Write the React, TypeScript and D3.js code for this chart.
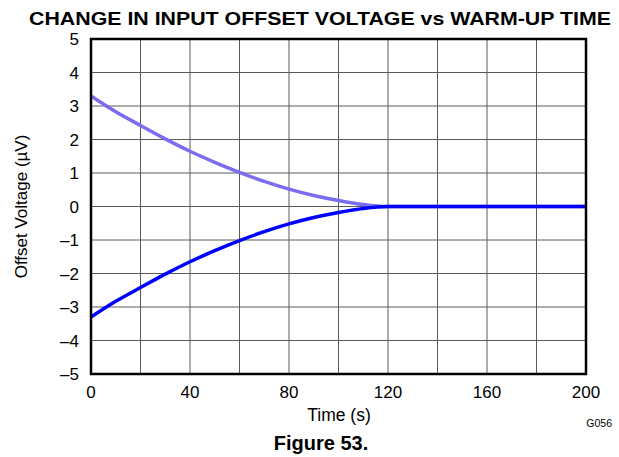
import React from "react";
import * as d3 from "d3";

const times = [0, 10, 20, 30, 40, 50, 60, 70, 80, 90, 100, 110, 120, 140, 160, 180, 200];
const upperValues = [3.3, 2.83, 2.42, 2.02, 1.65, 1.32, 1.02, 0.75, 0.52, 0.33, 0.18, 0.06, 0, 0, 0, 0, 0];
const lowerValues = [-3.3, -2.83, -2.42, -2.02, -1.65, -1.32, -1.02, -0.75, -0.52, -0.33, -0.18, -0.06, 0, 0, 0, 0, 0];
const xTicks = [0, 40, 80, 120, 160, 200];
const xGrid = [20, 40, 60, 80, 100, 120, 140, 160, 180];
const yTicks = [-5, -4, -3, -2, -1, 0, 1, 2, 3, 4, 5];

const W = 619, H = 457;
const L = 91, R = 586, T = 39, B = 374;

export default function App() {
  const x = d3.scaleLinear().domain([0, 200]).range([L, R]);
  const y = d3.scaleLinear().domain([-5, 5]).range([B, T]);
  const line = d3
    .line<[number, number]>()
    .x((d) => x(d[0]))
    .y((d) => y(d[1]))
    .curve(d3.curveMonotoneX);
  const up = times.map((t, i) => [t, upperValues[i]] as [number, number]);
  const lo = times.map((t, i) => [t, lowerValues[i]] as [number, number]);
  const fmt = (v: number) => (v < 0 ? "\u2013" + Math.abs(v) : String(v));
  const font = "Arial, 'Liberation Sans', sans-serif";
  return (
    <svg width={W} height={H} style={{ position: "absolute", left: 0, top: 0, background: "#fff" }} fontFamily={font}>
      <text x={320} y={25} textAnchor="middle" fontSize={18.5} fontWeight="bold" fill="#000" textLength={582} lengthAdjust="spacingAndGlyphs">
        CHANGE IN INPUT OFFSET VOLTAGE vs WARM-UP TIME
      </text>
      {xGrid.map((g) => (
        <line key={"vx" + g} x1={x(g)} x2={x(g)} y1={T} y2={B} stroke="#5a5a5a" strokeWidth={1} />
      ))}
      {yTicks.slice(1, -1).map((g) => (
        <line key={"hy" + g} x1={L} x2={R} y1={y(g)} y2={y(g)} stroke="#5a5a5a" strokeWidth={1} />
      ))}
      <path d={line(up) || ""} fill="none" stroke="#7b6cf0" strokeWidth={3.5} />
      <path d={line(lo) || ""} fill="none" stroke="#0000ff" strokeWidth={3.5} />
      <rect x={L} y={T} width={R - L} height={B - T} fill="none" stroke="#000" strokeWidth={2.5} />
      {yTicks.map((t) => (
        <text key={"yl" + t} x={L - 12} y={y(t) + 6} textAnchor="end" fontSize={17} fill="#000">
          {fmt(t)}
        </text>
      ))}
      {xTicks.map((t) => (
        <text key={"xl" + t} x={x(t)} y={B + 24} textAnchor="middle" fontSize={17} fill="#000">
          {fmt(t)}
        </text>
      ))}
      <text x={339} y={421} textAnchor="middle" fontSize={17.5} fill="#000">Time (s)</text>
      <text transform={`translate(27, ${(T + B) / 2}) rotate(-90)`} textAnchor="middle" fontSize={17} fill="#000">
        Offset Voltage (µV)
      </text>
      <text x={612} y={427} textAnchor="end" fontSize={10.5} fill="#000">G056</text>
      <text x={321} y={450} textAnchor="middle" fontSize={20} fontWeight="bold" fill="#000">Figure 53.</text>
    </svg>
  );
}
